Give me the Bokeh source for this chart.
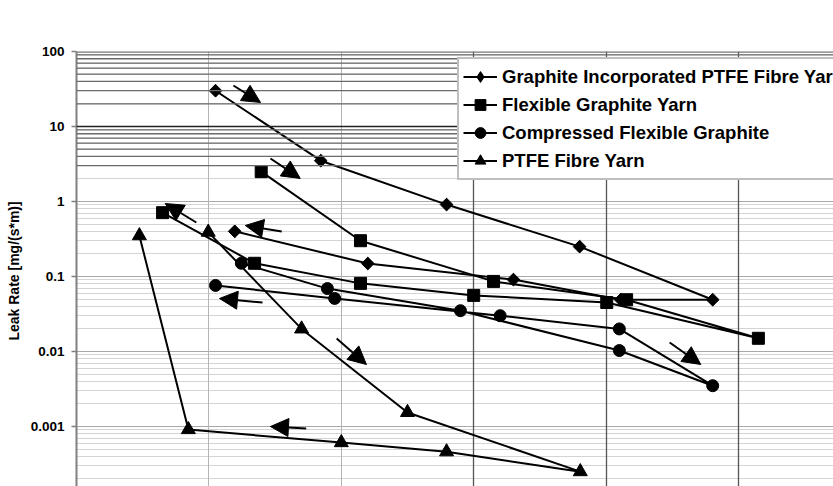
import math
from bokeh.plotting import figure
from bokeh.models import (FixedTicker, Grid, Legend, LegendItem, Arrow, NormalHead,
                          Span, ColumnDataSource, Range1d)
from bokeh.embed import file_html
from bokeh.resources import INLINE

# ---------------- data ----------------
series_names = ["Graphite Incorporated PTFE Fibre Yarn", "Flexible Graphite Yarn",
                "Compressed Flexible Graphite", "PTFE Fibre Yarn"]

gi_x = [21.0, 36.9, 55.9, 76.0, 96.1, 82.2, 66.0, 44.0, 23.9]
gi_y = [30.0, 3.5, 0.91, 0.25, 0.049, 0.049, 0.091, 0.149, 0.40]

fg_x = [27.9, 42.9, 63.0, 83.1, 103.0, 80.1, 60.0, 42.9, 26.9, 13.0]
fg_y = [2.5, 0.30, 0.086, 0.049, 0.015, 0.045, 0.056, 0.081, 0.15, 0.71]

cf_x = [24.9, 37.9, 58.0, 82.0, 96.1, 82.0, 64.0, 39.0, 21.0]
cf_y = [0.15, 0.069, 0.035, 0.0103, 0.0035, 0.020, 0.030, 0.051, 0.076]

pt_x = [19.9, 34.0, 50.0, 76.1, 55.9, 40.0, 16.9, 9.5]
pt_y = [0.39, 0.020, 0.00154, 0.00025, 0.00046, 0.00061, 0.00091, 0.35]

# direction arrows (tail -> tip)
arrow_x0 = [23.7, 29.3, 18.1, 31.0, 28.1, 39.3, 89.6, 34.7]
arrow_y0 = [35.2, 3.74, 0.525, 0.398, 0.045, 0.0149, 0.0132, 0.00094]
arrow_x1 = [27.8, 33.8, 13.4, 25.5, 21.6, 43.8, 94.3, 29.3]
arrow_y1 = [20.9, 2.03, 0.94, 0.479, 0.0509, 0.00671, 0.00671, 0.0010]

y_ticks = [0.001, 0.01, 0.1, 1, 10, 100]
y_tick_labels = ["0.001", "0.01", "0.1", "1", "10", "100"]
x_grid_ticks = [20, 40, 60, 80, 100, 120]
y_label = "Leak Rate  [mg/(s*m)]"

# ---------------- figure ----------------
FONT = "Liberation Sans"
p = figure(width=833, height=486, output_backend="svg", toolbar_location=None,
           y_axis_type="log", x_axis_location=None,
           x_range=Range1d(0, 114.35), y_range=Range1d(10 ** -3.8, 100),
           min_border_left=76, min_border_right=0, min_border_top=51,
           min_border_bottom=0)
p.outline_line_color = None
p.background_fill_color = "white"
p.border_fill_color = "white"

# y axis
ax = p.yaxis[0]
minor = [k * 10.0 ** e for e in range(-4, 2) for k in range(2, 10)]
ax.ticker = FixedTicker(ticks=y_ticks, minor_ticks=minor)
ax.major_label_overrides = {t: s for t, s in zip(y_ticks, y_tick_labels)}
ax.axis_label = y_label
ax.axis_label_text_font = FONT
ax.axis_label_text_font_style = "bold"
ax.axis_label_text_font_size = "14px"
ax.axis_label_text_color = "black"
ax.axis_label_standoff = 6
ax.major_label_text_font = FONT
ax.major_label_text_font_style = "bold"
ax.major_label_text_font_size = "13.5px"
ax.major_label_text_color = "black"
ax.major_label_standoff = 7
ax.axis_line_color = "#808080"
ax.axis_line_width = 2
ax.major_tick_line_color = "#808080"
ax.major_tick_line_width = 1.5
ax.major_tick_out = 5
ax.major_tick_in = 0
ax.minor_tick_line_color = None

# grids
p.ygrid.grid_line_color = "#a8a8a8"
p.ygrid.grid_line_width = 1
p.ygrid.minor_grid_line_color = "#d4d4d4"
p.ygrid.minor_grid_line_width = 1
dark_levels = [k * 10.0 ** e for e in (0, 1) for k in range(3, 10)] + [20]
for lv in sorted(set(dark_levels)):
    p.add_layout(Span(location=lv, dimension="width", line_color="#6a6a6a", line_width=1.3))
p.add_layout(Span(location=10, dimension="width", line_color="#222222", line_width=1.3))
p.add_layout(Span(location=100, dimension="width", line_color="#777777", line_width=2.5))

p.add_layout(Grid(dimension=0, ticker=FixedTicker(ticks=x_grid_ticks[:2]),
                  grid_line_color="#b4b4b4", grid_line_width=1))
p.add_layout(Grid(dimension=0, ticker=FixedTicker(ticks=x_grid_ticks[2:]),
                  grid_line_color="#555555", grid_line_width=1.3))

# ---------------- series ----------------
LW = 2
items = []
specs = [
    (gi_x, gi_y, "diamond"),
    (fg_x, fg_y, "square"),
    (cf_x, cf_y, "circle"),
    (pt_x, pt_y, "triangle"),
]
for (xs, ys, mk), name in zip(specs, series_names):
    src = ColumnDataSource(dict(x=xs, y=ys))
    ln = p.line("x", "y", source=src, line_color="black", line_width=LW)
    if mk == "diamond":
        # narrow diamond (hidden beneath the rotated square) serves as the legend glyph
        proxy = p.scatter("x", "y", source=src, marker="diamond", size=12,
                          fill_color="black", line_color="black")
        p.scatter("x", "y", source=src, marker="square", angle=math.pi / 4,
                  size=9, fill_color="black", line_color="black")
        items.append(LegendItem(label=name, renderers=[ln, proxy]))
    else:
        size = {"square": 12, "circle": 12, "triangle": 14}[mk]
        sc = p.scatter("x", "y", source=src, marker=mk, size=size,
                       fill_color="black", line_color="black")
        items.append(LegendItem(label=name, renderers=[ln, sc]))

# arrows
for x0, y0, x1, y1 in zip(arrow_x0, arrow_y0, arrow_x1, arrow_y1):
    p.add_layout(Arrow(x_start=x0, y_start=y0, x_end=x1, y_end=y1,
                       line_color="black", line_width=2,
                       end=NormalHead(size=18, fill_color="black", line_color="black")))

legend = Legend(items=items, location=(381, 306),
                label_text_font=FONT, label_text_font_style="bold",
                label_text_font_size="18.5px", label_text_color="black",
                glyph_width=34, glyph_height=27, label_height=27, spacing=1,
                padding=4, label_standoff=5, margin=0,
                border_line_color="#808080", border_line_width=2,
                background_fill_color="white", background_fill_alpha=1.0)
p.add_layout(legend, "center")

open("out.html", "w").write(file_html(p, INLINE))
